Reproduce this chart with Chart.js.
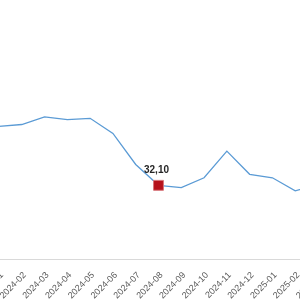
<!DOCTYPE html>
<html>
<head>
<meta charset="utf-8">
<script src="https://cdn.jsdelivr.net/npm/chart.js@4"></script>
<style>
    html, body { margin: 0; padding: 0; width: 300px; height: 300px; overflow: hidden; background: #fff; }
    #chart { position: absolute; left: -62px; top: 2px; }
</style>
</head>
<body>
<canvas id="chart" width="440" height="310"></canvas>
<script>
// data
const months = ['2024-01', '2024-02', '2024-03', '2024-04', '2024-05', '2024-06', '2024-07',
    '2024-08', '2024-09', '2024-10', '2024-11', '2024-12', '2025-01', '2025-02', '2025-03'];
const values = [57.8, 58.6, 61.9, 60.7, 61.3, 54.7, 41.2, 32.1, 31.1, 35.4, 47.0, 36.9, 35.4, 29.7, 32.4];
const highlightMonth = '2024-08';

const highlightIndex = months.indexOf(highlightMonth);

// label above the highlighted point
const valueLabel = {
    id: 'valueLabel',
    afterDatasetsDraw(chart) {
        const ctx = chart.ctx;
        const pt = chart.getDatasetMeta(0).data[highlightIndex];
        const text = values[highlightIndex].toLocaleString('de-DE', {minimumFractionDigits: 2, maximumFractionDigits: 2});
        ctx.save();
        ctx.font = 'bold 10px "Liberation Sans", Arial, sans-serif';
        ctx.fillStyle = '#262626';
        ctx.textAlign = 'center';
        ctx.textBaseline = 'bottom';
        ctx.fillText(text, pt.x - 2, pt.y - 10);
        ctx.restore();
    }
};

new Chart(document.getElementById('chart'), {
    type: 'line',
    data: {
        labels: months,
        datasets: [{
            data: values,
            borderColor: '#5b9bd5',
            borderWidth: 1.3,
            tension: 0,
            fill: false,
            pointStyle: 'rect',
            pointRadius: months.map((m, i) => i === highlightIndex ? 7 : 0),
            pointBackgroundColor: '#b5121b',
            pointBorderColor: '#d8757a',
            pointBorderWidth: 1
        }]
    },
    options: {
        responsive: false,
        animation: false,
        layout: { padding: { left: 61, right: 60, top: 27.5, bottom: 0 } },
        plugins: { legend: { display: false }, tooltip: { enabled: false } },
        scales: {
            x: {
                grid: { display: false, drawTicks: false },
                border: { display: true, color: '#d9d9d9' },
                ticks: {
                    autoSkip: false,
                    minRotation: 45,
                    maxRotation: 45,
                    padding: 11,
                    labelOffset: 3,
                    color: '#595959',
                    font: { size: 9, family: '"Liberation Sans", Arial, sans-serif' }
                }
            },
            y: { display: false, min: 0, max: 100 }
        }
    },
    plugins: [valueLabel]
});
</script>
</body>
</html>
